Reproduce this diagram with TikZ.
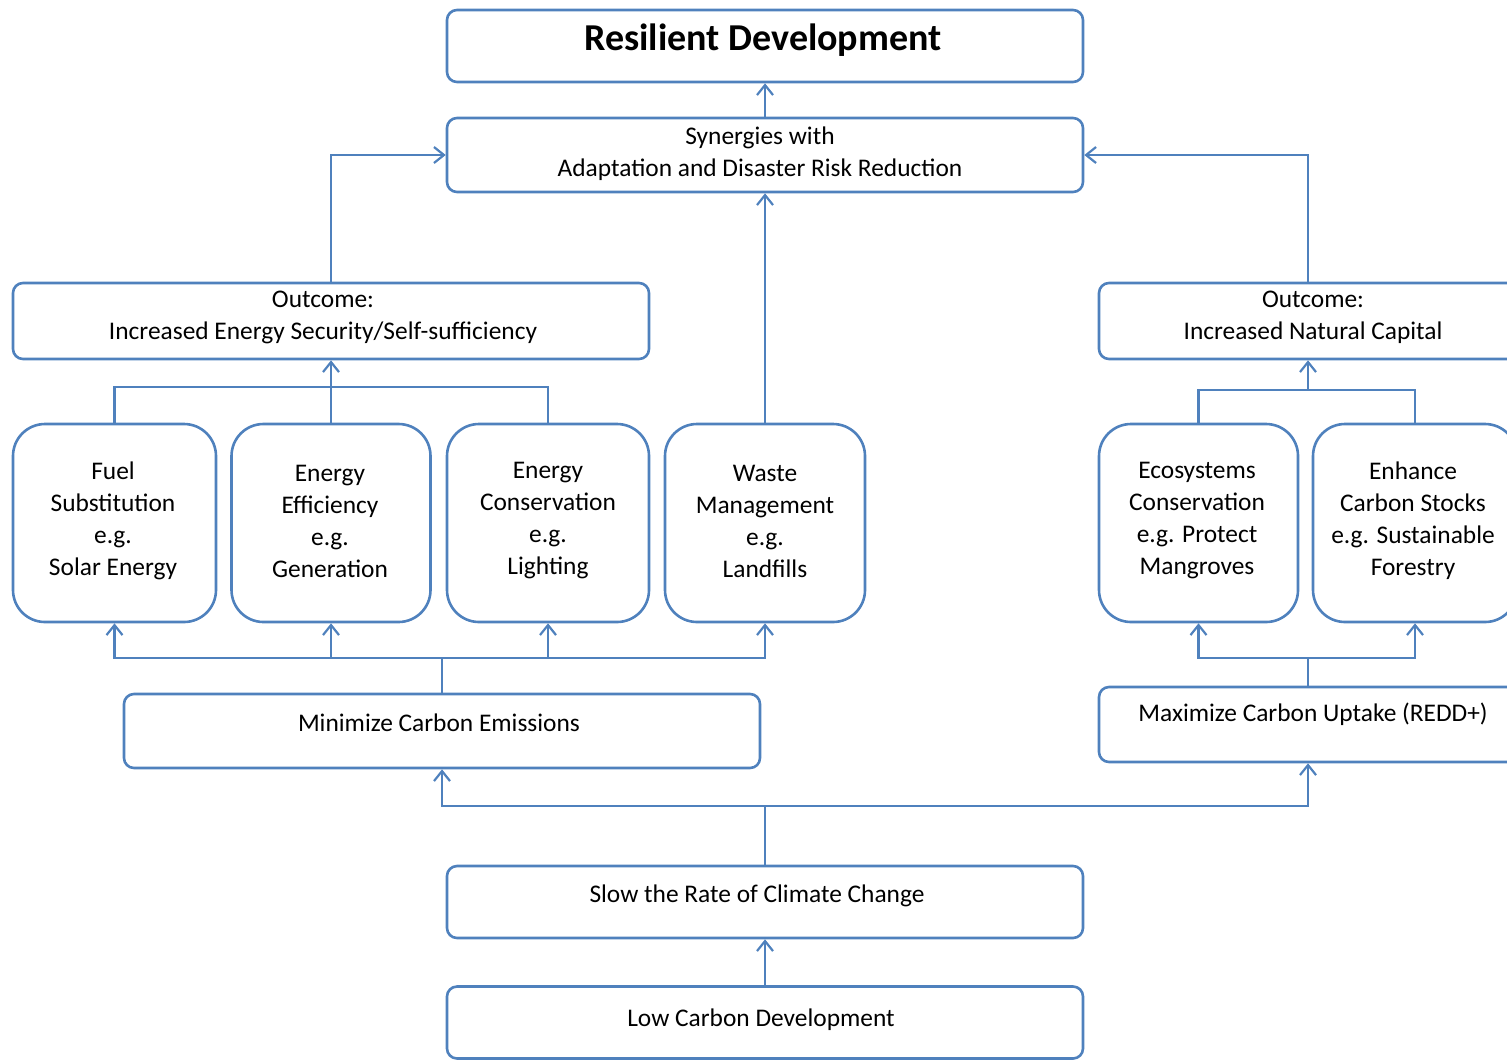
\documentclass[tikz,border=0pt]{standalone}
\usepackage{fontspec}
\setmainfont{Carlito}
\usetikzlibrary{arrows.meta}
\definecolor{bl}{RGB}{79,129,189}
\tikzset{
  box/.style={draw=bl, line width=1.3pt, rounded corners=5pt, inner sep=0pt, fill=white},
  rbox/.style={box, rounded corners=16pt},
  txt/.style={align=center, inner sep=0pt, font=\fontsize{12.7}{16}\selectfont},
  con/.style={draw=bl, line width=1.3pt},
  arr/.style={con, -{Straight Barb[length=5pt,width=8pt,line width=1.1pt]}}
}
\begin{document}
\begin{tikzpicture}[x=0.5pt,y=-0.5pt]
\useasboundingbox (0,0) rectangle (1507,1061);
% boxes
\node[box, minimum width=318pt, minimum height=36pt] (rd) at (765,46) {};
\node[box, minimum width=318pt, minimum height=37pt] (syn) at (765,155) {};
\node[box, minimum width=318pt, minimum height=38pt] (outL) at (331,321) {};
\node[box, minimum width=209pt, minimum height=38pt] (outR) at (1308,321) {};
\node[rbox, minimum width=101.5pt, minimum height=99pt] (fuel) at (114.5,523) {};
\node[rbox, minimum width=99.5pt, minimum height=99pt] (eff) at (331,523) {};
\node[rbox, minimum width=101pt, minimum height=99pt] (cons) at (548,523) {};
\node[rbox, minimum width=100pt, minimum height=99pt] (waste) at (765,523) {};
\node[rbox, minimum width=99.5pt, minimum height=99pt] (eco) at (1198.5,523) {};
\node[rbox, minimum width=102pt, minimum height=99pt] (enh) at (1415,523) {};
\node[box, minimum width=318pt, minimum height=37pt] (minC) at (442,731) {};
\node[box, minimum width=209pt, minimum height=37.5pt] (maxC) at (1308,724.5) {};
\node[box, minimum width=318pt, minimum height=36pt] (slow) at (765,902) {};
\node[box, minimum width=318pt, minimum height=36pt] (low) at (765,1022.5) {};
% texts
\node[txt, font=\fontsize{19}{22}\selectfont\bfseries] (trd) at (763,40) {Resilient Development};
\node[txt] (tsyn) at (760,154) {Synergies with\\Adaptation and Disaster Risk Reduction};
\node[txt] (toutL) at (323,317) {Outcome:\\Increased Energy Security/Self-sufficiency};
\node[txt] (toutR) at (1313,317) {Outcome:\\Increased Natural Capital};
\node[txt] (tfuel) at (113,521) {Fuel\\Substitution\\e.g.\\Solar Energy};
\node[txt] (teff) at (330,521) {Energy\\Efficiency\\e.g.\\Generation};
\node[txt] (tcons) at (548,521) {Energy\\Conservation\\e.g.\\Lighting};
\node[txt] (twaste) at (765,521) {Waste\\Management\\e.g.\\Landfills};
\node[txt] (teco) at (1197,521) {Ecosystems\\Conservation\\e.g. Protect\\Mangroves};
\node[txt] (tenh) at (1413,521) {Enhance\\Carbon Stocks\\e.g. Sustainable\\Forestry};
\node[txt] (tmin) at (439,723) {Minimize Carbon Emissions};
\node[txt] (tmax) at (1313,714) {Maximize Carbon Uptake (REDD+)};
\node[txt] (tslow) at (757,896) {Slow the Rate of Climate Change};
\node[txt] (tlow) at (761,1020) {Low Carbon Development};
% junctions
\coordinate (c1) at (331,387);
\coordinate (c2) at (1308,390);
\coordinate (c3) at (442,658);
\coordinate (c4) at (1308,658);
\coordinate (c5) at (765,806);
% connectors
\draw[arr] (syn.north) -- (rd.south);
\draw[arr] (outL.north) |- (syn.west);
\draw[arr] (outR.north) |- (syn.east);
\draw[arr] (waste.north) -- (syn.south);
\draw[con] (fuel.north) |- (c1) -| (cons.north);
\draw[arr] (eff.north) -- (outL.south);
\draw[con] (eco.north) |- (c2) -| (enh.north);
\draw[arr] (c2) -- (outR.south);
\draw[con] (minC.north) -- (c3);
\draw[arr] (c3) -| (fuel.south);
\draw[arr] (c3) -| (eff.south);
\draw[arr] (c3) -| (cons.south);
\draw[arr] (c3) -| (waste.south);
\draw[con] (maxC.north) -- (c4);
\draw[arr] (c4) -| (eco.south);
\draw[arr] (c4) -| (enh.south);
\draw[con] (slow.north) -- (c5);
\draw[arr] (c5) -| (minC.south);
\draw[arr] (c5) -| (maxC.south);
\draw[arr] (low.north) -- (slow.south);
\end{tikzpicture}
\end{document}
